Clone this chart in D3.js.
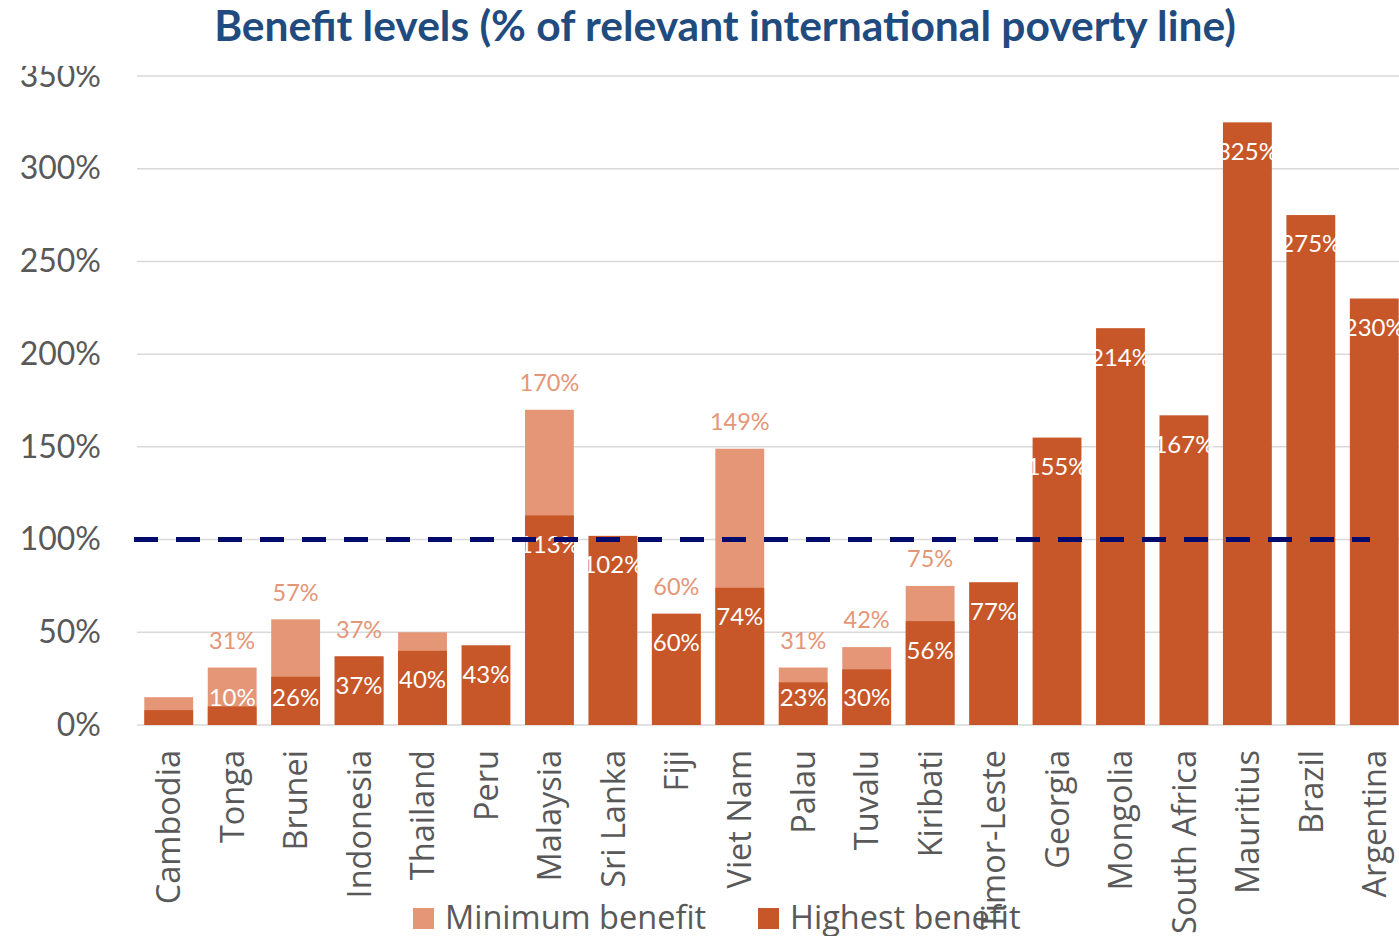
<!DOCTYPE html>
<html>
<head>
<meta charset="utf-8">
<script src="https://cdn.jsdelivr.net/npm/d3@7"></script>
<style>
  body { margin: 0; background: #ffffff; overflow: hidden; }
  svg { display: block; }
</style>
</head>
<body>
<svg id="chart" width="1399" height="936"></svg>
<script>
// Benefit levels as % of the relevant international poverty line
const countries = ["Cambodia", "Tonga", "Brunei", "Indonesia", "Thailand", "Peru", "Malaysia",
  "Sri Lanka", "Fiji", "Viet Nam", "Palau", "Tuvalu", "Kiribati", "Timor-Leste", "Georgia",
  "Mongolia", "South Africa", "Mauritius", "Brazil", "Argentina"];
const highestBenefit = [8, 10, 26, 37, 40, 43, 113, 102, 60, 74, 23, 30, 56, 77, 155, 214, 167, 325, 275, 230];
const minimumBenefit = [15, 31, 57, 37, 50, null, 170, null, 60, 149, 31, 42, 75, null, null, null, null, null, null, null];
// which values carry a data label
const highestLabelled = [false, true, true, true, true, true, true, true, true, true, true, true, true, true, true, true, true, true, true, true];
const minimumLabelled = [false, true, true, true, false, false, true, false, true, true, true, true, true, false, false, false, false, false, false, false];
const yTicks = [0, 50, 100, 150, 200, 250, 300, 350];
const povertyLine = 100;
const seriesNames = ["Minimum benefit", "Highest benefit"];
const titleText = "Benefit levels (% of relevant international poverty line)";

const colors = { min: "#E49677", high: "#C75628", line: "#000A6B", grid: "#D9D9D9", text: "#595959", title: "#1F4B7E" };

const svg = d3.select("#chart");
const plot = { left: 137, right: 1406, top: 76, bottom: 725 };

const x = d3.scaleBand().domain(countries).range([plot.left, plot.right])
  .paddingInner(0.23).paddingOuter(0.115);
const y = d3.scaleLinear().domain([0, 350]).range([plot.bottom, plot.top]);

// gridlines
svg.append("g").selectAll("line").data(yTicks).join("line")
  .attr("x1", plot.left).attr("x2", plot.right)
  .attr("y1", d => y(d)).attr("y2", d => y(d))
  .attr("stroke", colors.grid).attr("stroke-width", 1.5);

// y axis
const yAxis = svg.append("g").attr("transform", `translate(${plot.left},0)`)
  .call(d3.axisLeft(y).tickValues(yTicks).tickFormat(d => d + "%").tickSize(0).tickPadding(36));
yAxis.select(".domain").remove();
yAxis.selectAll("text")
  .attr("font-family", "Lato, sans-serif").attr("font-size", 32).attr("fill", colors.text);

// x axis with rotated country names
const xAxis = svg.append("g").attr("transform", `translate(0,${plot.bottom})`)
  .call(d3.axisBottom(x).tickSize(0));
xAxis.select(".domain").remove();
xAxis.selectAll("text")
  .attr("transform", "rotate(-90)")
  .attr("x", -25).attr("y", 0).attr("dy", "0.36em")
  .attr("text-anchor", "end")
  .attr("font-family", "'Open Sans', sans-serif").attr("font-size", 32.5).attr("fill", colors.text);

// bars: minimum benefit behind, highest benefit in front (overlapping)
const rows = countries.map((c, i) => ({ c, min: minimumBenefit[i], high: highestBenefit[i], minL: minimumLabelled[i], highL: highestLabelled[i] }));

svg.append("g").selectAll("rect").data(rows.filter(d => d.min != null)).join("rect")
  .attr("x", d => x(d.c)).attr("width", x.bandwidth())
  .attr("y", d => y(d.min)).attr("height", d => y(0) - y(d.min))
  .attr("fill", colors.min);

svg.append("g").selectAll("rect").data(rows).join("rect")
  .attr("x", d => x(d.c)).attr("width", x.bandwidth())
  .attr("y", d => y(d.high)).attr("height", d => y(0) - y(d.high))
  .attr("fill", colors.high);

// labels: minimum above its bar, highest inside the top of its bar
svg.append("g").selectAll("text").data(rows.filter(d => d.min != null && d.minL)).join("text")
  .attr("x", d => x(d.c) + x.bandwidth() / 2)
  .attr("y", d => y(d.min) - 27).attr("dy", "0.35em")
  .attr("text-anchor", "middle")
  .attr("font-family", "Lato, sans-serif").attr("font-size", 23.5)
  .attr("fill", colors.min)
  .text(d => d.min + "%");

svg.append("g").selectAll("text").data(rows.filter(d => d.highL)).join("text")
  .attr("x", d => x(d.c) + x.bandwidth() / 2)
  .attr("y", d => Math.min(y(d.high) + 29, y(0) - 27)).attr("dy", "0.35em")
  .attr("text-anchor", "middle")
  .attr("font-family", "Lato, sans-serif").attr("font-size", 24)
  .attr("fill", "#ffffff")
  .text(d => d.high + "%");

// poverty line reference
svg.append("line")
  .attr("x1", 134).attr("x2", 1370)
  .attr("y1", y(povertyLine)).attr("y2", y(povertyLine))
  .attr("stroke", colors.line).attr("stroke-width", 5)
  .attr("stroke-dasharray", "24 18");

// title band, with the title sized to span its line
svg.append("rect").attr("x", 0).attr("y", 0).attr("width", 1399).attr("height", 66).attr("fill", "#ffffff");
const title = svg.append("text")
  .attr("x", 725).attr("y", 41)
  .attr("text-anchor", "middle")
  .attr("font-family", "Lato, sans-serif")
  .attr("font-weight", "bold")
  .attr("font-size", 36)
  .attr("fill", colors.title)
  .text(titleText);
const tw = title.node().getComputedTextLength();
title.attr("font-size", 36 * 1022 / tw);

// legend
const legend = svg.append("g");
const legendItems = [
  { name: seriesNames[0], color: colors.min, x: 413 },
  { name: seriesNames[1], color: colors.high, x: 758 }
];
legendItems.forEach(item => {
  legend.append("rect").attr("x", item.x).attr("y", 908).attr("width", 21).attr("height", 21).attr("fill", item.color);
  legend.append("text").attr("x", item.x + 32).attr("y", 929)
    .attr("font-family", "'Open Sans', sans-serif").attr("font-size", 32.5).attr("fill", colors.text)
    .text(item.name);
});
</script>
</body>
</html>
